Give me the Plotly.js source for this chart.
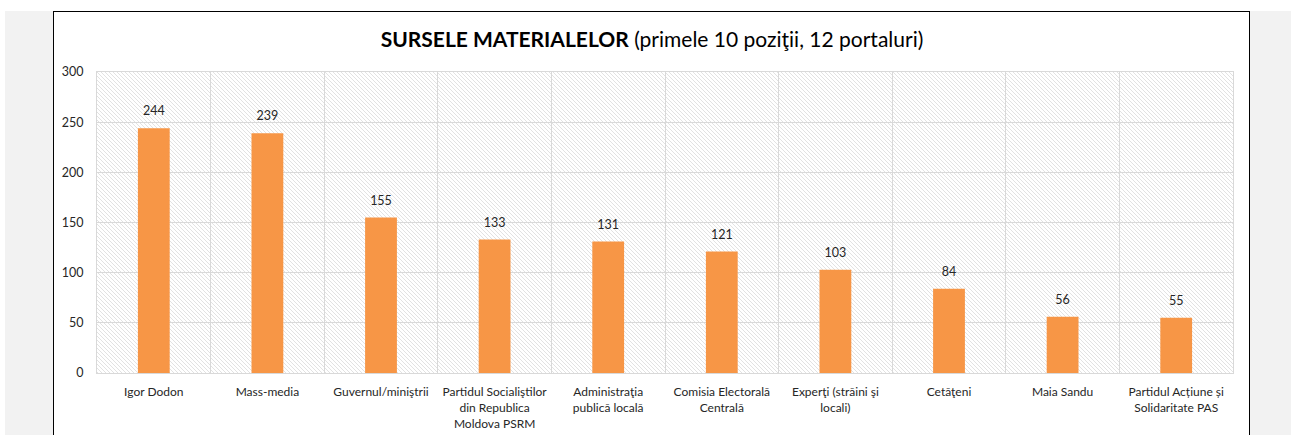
<!DOCTYPE html>
<html>
<head>
<meta charset="utf-8">
<script src="https://cdn.plot.ly/plotly-3.0.1.min.js"></script>
<style>
  html, body { margin: 0; padding: 0; width: 1291px; height: 435px; overflow: hidden; background: #ffffff; }
  #gray { position: absolute; left: 5px; top: 11px; width: 1286px; height: 424px; background: #f2f2f2; }
  #box { position: absolute; left: 53px; top: 11px; width: 1195px; height: 440px; background: #ffffff; border: 1.5px solid #000000; }
  #chart { position: absolute; left: 0; top: 0; width: 1291px; height: 435px; }
</style>
</head>
<body>
<div id="gray"></div>
<div id="box"></div>
<div id="chart"></div>
<script>
const categories = [
  "Igor Dodon",
  "Mass-media",
  "Guvernul/miniştrii",
  "Partidul Socialiştilor<br>din Republica<br>Moldova PSRM",
  "Administraţia<br>publică locală",
  "Comisia Electorală<br>Centrală",
  "Experţi (străini şi<br>locali)",
  "Cetăţeni",
  "Maia Sandu",
  "Partidul Acțiune și<br>Solidaritate PAS"
];
const values = [244, 239, 155, 133, 131, 121, 103, 84, 56, 55];
const yTicks = [0, 50, 100, 150, 200, 250, 300];

const hatchSvg = '<svg xmlns="http://www.w3.org/2000/svg" width="1136" height="301">' +
  '<defs><pattern id="p" width="4" height="4" patternUnits="userSpaceOnUse">' +
  '<rect width="4" height="4" fill="#ffffff"/>' +
  '<path d="M-1,-1 L5,5 M-1,3 L1,5 M3,-1 L5,1" stroke="#dadada" stroke-width="0.8"/>' +
  '</pattern></defs><rect width="1136" height="301" fill="url(#p)"/></svg>';
const hatchUri = 'data:image/svg+xml;charset=utf-8,' + encodeURIComponent(hatchSvg);

const font = "Lato, 'Open Sans', sans-serif";

Plotly.newPlot('chart', [{
  type: 'bar',
  x: categories,
  y: values,
  marker: { color: '#f79646' },
  width: 0.28,
  hoverinfo: 'skip'
}, {
  type: 'scatter',
  mode: 'markers+text',
  x: categories,
  y: values,
  marker: { size: 14, color: 'rgba(0,0,0,0)' },
  text: values.map(String),
  textposition: 'top center',
  cliponaxis: false,
  textfont: { family: font, size: 12.5, color: '#262626' },
  hoverinfo: 'skip'
}], {
  width: 1291,
  height: 435,
  margin: { l: 97, r: 58, t: 72, b: 62 },
  paper_bgcolor: 'rgba(0,0,0,0)',
  plot_bgcolor: 'rgba(0,0,0,0)',
  showlegend: false,
  title: {
    text: '<b>SURSELE MATERIALELOR</b> (primele 10 poziţii, 12 portaluri)',
    font: { family: font, size: 21, color: '#000000' },
    xref: 'container', x: 652 / 1291, xanchor: 'center',
    yref: 'container', y: 1 - 40 / 435, yanchor: 'middle'
  },
  xaxis: {
    type: 'category',
    range: [-0.5, categories.length - 0.5],
    tickson: 'boundaries',
    tickangle: 0,
    showgrid: true,
    gridcolor: '#d9d9d9',
    gridwidth: 1,
    showline: true,
    linecolor: '#d9d9d9',
    linewidth: 1,
    mirror: true,
    ticks: '',
    ticklabelstandoff: 8,
    tickfont: { family: font, size: 12, color: '#262626' },
    fixedrange: true
  },
  yaxis: {
    range: [0, 300],
    tickvals: yTicks,
    ticktext: yTicks.map(String),
    showgrid: true,
    gridcolor: '#d9d9d9',
    gridwidth: 1,
    zeroline: false,
    showline: true,
    linecolor: '#d9d9d9',
    mirror: true,
    ticks: '',
    ticklabelstandoff: 10,
    tickfont: { family: font, size: 12.5, color: '#262626' },
    fixedrange: true
  },
  images: [{
    source: hatchUri,
    xref: 'paper', yref: 'paper',
    x: 0, y: 1, sizex: 1, sizey: 1,
    xanchor: 'left', yanchor: 'top',
    sizing: 'stretch',
    layer: 'below'
  }]
}, { displayModeBar: false, staticPlot: true });
</script>
</body>
</html>
